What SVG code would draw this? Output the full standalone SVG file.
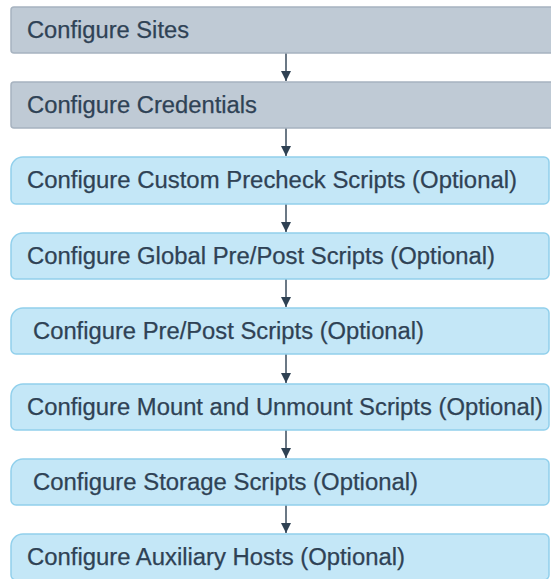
<svg xmlns="http://www.w3.org/2000/svg" width="551" height="579" viewBox="0 0 551 579">
<style>
.t{font-family:"Liberation Sans",Arial,sans-serif;font-size:23.5px;fill:#2f4255;stroke:#2f4255;stroke-width:0.25}
.g{fill:#bfcad5;stroke:#a7b3c0;stroke-width:1.5}
.b{fill:#c4e7f7;stroke:#91d0ec;stroke-width:1.5}
.c{stroke:#3a4b5c;stroke-width:1.5;fill:none}
</style>
<defs>
<marker id="ah2" viewBox="0 0 10 10" refX="10" refY="5" markerWidth="14" markerHeight="10" markerUnits="userSpaceOnUse" orient="auto">
<path d="M0,0 L10,5 L0,10 z" fill="#2f4153"/>
</marker>
</defs>
<g id="connectors">
<line class="c" x1="286" y1="53" x2="286" y2="81" marker-end="url(#ah2)"/>
<line class="c" x1="286" y1="128" x2="286" y2="156" marker-end="url(#ah2)"/>
<line class="c" x1="286" y1="204" x2="286" y2="232" marker-end="url(#ah2)"/>
<line class="c" x1="286" y1="279" x2="286" y2="307" marker-end="url(#ah2)"/>
<line class="c" x1="286" y1="354" x2="286" y2="383" marker-end="url(#ah2)"/>
<line class="c" x1="286" y1="430" x2="286" y2="458" marker-end="url(#ah2)"/>
<line class="c" x1="286" y1="505" x2="286" y2="533" marker-end="url(#ah2)"/>
</g>
<g id="n1"><rect class="g" x="11" y="7" width="550" height="46" rx="3"/><text class="t" x="27" y="38" textLength="162" lengthAdjust="spacingAndGlyphs">Configure Sites</text></g>
<g id="n2"><rect class="g" x="11" y="82" width="550" height="46" rx="3"/><text class="t" x="27" y="113" textLength="230" lengthAdjust="spacingAndGlyphs">Configure Credentials</text></g>
<g id="n3"><path class="b" d="M23,157 H544 a5,5 0 0 1 5,5 V199 a5,5 0 0 1 -5,5 H16 a5,5 0 0 1 -5,-5 V169 a12,12 0 0 1 12,-12 z"/><text class="t" x="27" y="188" textLength="490" lengthAdjust="spacingAndGlyphs">Configure Custom Precheck Scripts (Optional)</text></g>
<g id="n4"><path class="b" d="M23,233 H544 a5,5 0 0 1 5,5 V274 a5,5 0 0 1 -5,5 H16 a5,5 0 0 1 -5,-5 V245 a12,12 0 0 1 12,-12 z"/><text class="t" x="27" y="264" textLength="468" lengthAdjust="spacingAndGlyphs">Configure Global Pre/Post Scripts (Optional)</text></g>
<g id="n5"><path class="b" d="M23,308 H544 a5,5 0 0 1 5,5 V349 a5,5 0 0 1 -5,5 H16 a5,5 0 0 1 -5,-5 V320 a12,12 0 0 1 12,-12 z"/><text class="t" x="33" y="339" textLength="391" lengthAdjust="spacingAndGlyphs">Configure Pre/Post Scripts (Optional)</text></g>
<g id="n6"><path class="b" d="M23,384 H544 a5,5 0 0 1 5,5 V425 a5,5 0 0 1 -5,5 H16 a5,5 0 0 1 -5,-5 V396 a12,12 0 0 1 12,-12 z"/><text class="t" x="27" y="415" textLength="516" lengthAdjust="spacingAndGlyphs">Configure Mount and Unmount Scripts (Optional)</text></g>
<g id="n7"><path class="b" d="M23,459 H544 a5,5 0 0 1 5,5 V500 a5,5 0 0 1 -5,5 H16 a5,5 0 0 1 -5,-5 V471 a12,12 0 0 1 12,-12 z"/><text class="t" x="33" y="490" textLength="385" lengthAdjust="spacingAndGlyphs">Configure Storage Scripts (Optional)</text></g>
<g id="n8"><path class="b" d="M23,534 H544 a5,5 0 0 1 5,5 V575 a5,5 0 0 1 -5,5 H16 a5,5 0 0 1 -5,-5 V546 a12,12 0 0 1 12,-12 z"/><text class="t" x="27" y="565" textLength="378" lengthAdjust="spacingAndGlyphs">Configure Auxiliary Hosts (Optional)</text></g>
</svg>
